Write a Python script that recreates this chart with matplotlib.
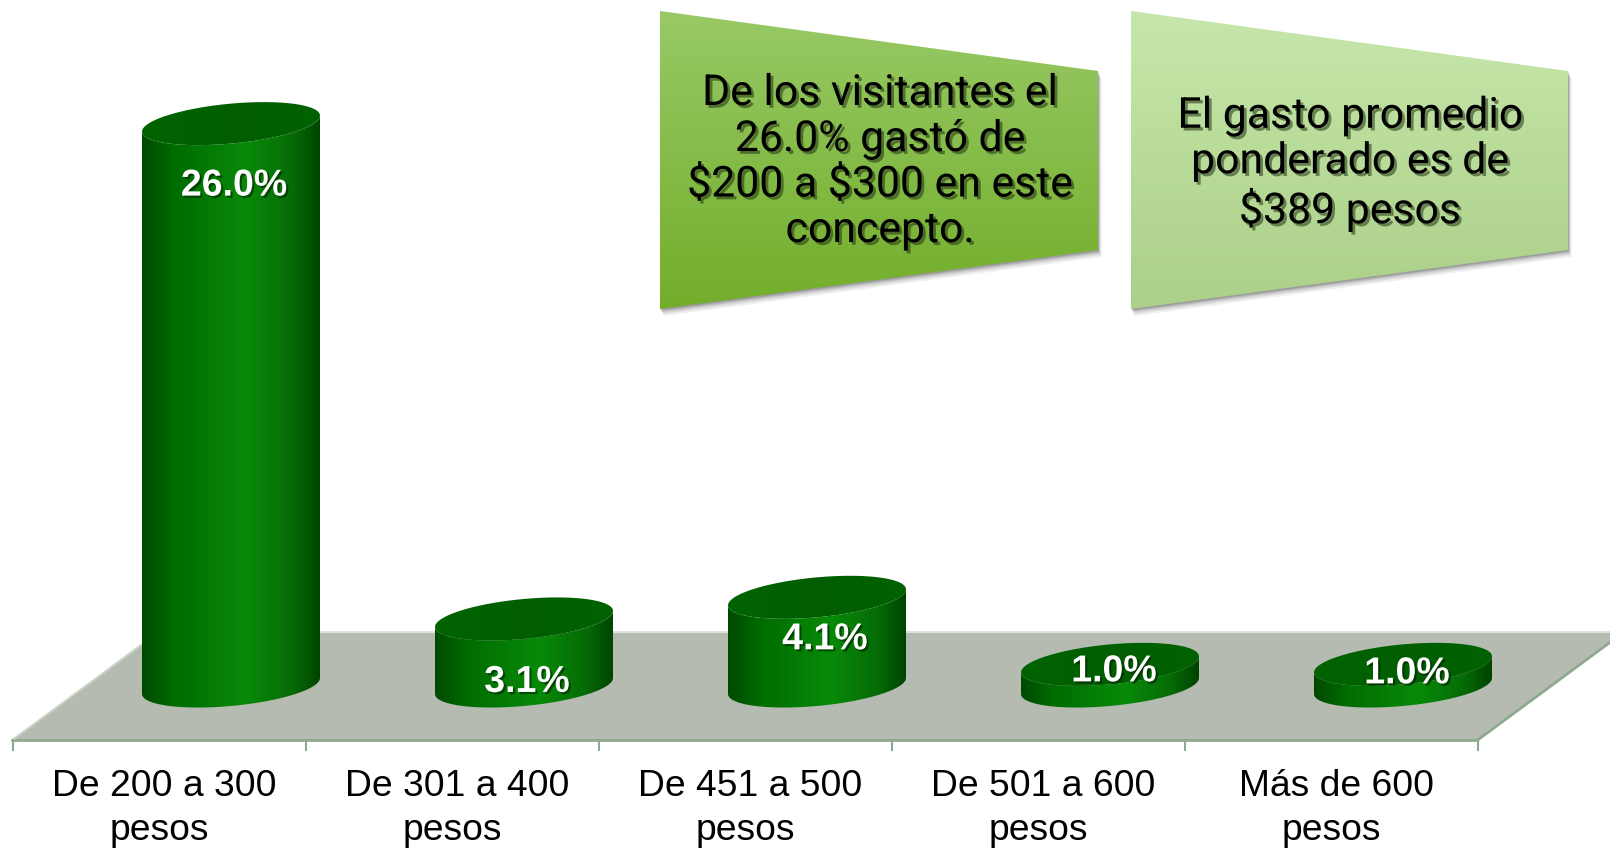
import matplotlib
matplotlib.use('Agg')
import matplotlib.pyplot as plt
import matplotlib.patheffects as pe
from matplotlib.colors import LinearSegmentedColormap
from matplotlib.patches import PathPatch, Polygon
from matplotlib.path import Path
import numpy as np

# Chart data
categories = ['De 200 a 300', 'De 301 a 400', 'De 451 a 500', 'De 501 a 600', 'Más de 600']
values = [26.0, 3.1, 4.1, 1.0, 1.0]
value_labels = ['26.0%', '3.1%', '4.1%', '1.0%', '1.0%']
unit_label = 'pesos'
note_left = 'De los visitantes el\n26.0% gastó de\n\\$200 a \\$300 en este\nconcepto.'
note_right = 'El gasto promedio\nponderado es de\n\\$389 pesos'

# Layout, in pixels of the 1610x848 picture
W, H = 1610, 848
FIRST_X, STEP_X = 231, 293
BASE_Y = 686
PX_PER_UNIT = 21.63
HALF_W, TILT, HALF_H = 89, 8, 20
LABEL_OFFSETS = [(3, 62), (3, 63), (8, 42), (4, 7), (4, 9)]

body_cmap = LinearSegmentedColormap.from_list('body', [
    (0, '#004a00'), (0.18, '#006c00'), (0.58, '#088a08'), (0.84, '#066c06'), (1, '#004400')])
top_cmap = LinearSegmentedColormap.from_list('top', ['#006400', '#005e00', '#006200'])


def tox(x):
    return (x - FIRST_X) / STEP_X


def toy(y):
    return (BASE_Y - y) / PX_PER_UNIT


# Draws a gradient inside a clip path
def gradient(ax, path, cmap, extent, vertical=False, z=2):
    if vertical:
        img = np.linspace(0, 1, 200).reshape(-1, 1)
    else:
        img = np.linspace(0, 1, 200).reshape(1, -1)
    im = ax.imshow(img, cmap=cmap, extent=extent, aspect='auto', zorder=z, interpolation='bilinear')
    im.set_clip_path(PathPatch(path, transform=ax.transData))


# Outline of the tilted ellipse that closes a cylinder
def ellipse(cx, cy, t):
    return np.column_stack([cx + HALF_W * np.cos(t) / STEP_X,
                            cy + (TILT * np.cos(t) + HALF_H * np.sin(t)) / PX_PER_UNIT])


def cylinder(ax, center, value):
    t = np.linspace(0, 2 * np.pi, 240)
    front = np.linspace(np.pi, 2 * np.pi, 120)
    # Lower half of the base, then lower half of the top going back
    base = ellipse(center, 0, front)
    top = ellipse(center, value, front)[::-1]
    body = Path(np.vstack([base, top, base[:1]]))
    extent = (center - HALF_W / STEP_X, center + HALF_W / STEP_X, -2, value + 2)
    gradient(ax, body, body_cmap, extent)
    gradient(ax, Path(ellipse(center, value, t)), top_cmap, extent, z=3)


fig = plt.figure(figsize=(W / 100, H / 100), dpi=100, facecolor='white')

# Pixel axes for floor, notes and labels
deco = fig.add_axes([0, 0, 1, 1])
deco.set_xlim(0, W)
deco.set_ylim(H, 0)
deco.axis('off')

floor = [(12.5, 740), (1477, 740), (1624, 632), (159, 632)]
deco.add_patch(Polygon(floor, closed=True, facecolor='#b5bbb1', edgecolor='none', zorder=1))
deco.plot([159, 1624], [631.5, 631.5], color='#dfe2dc', lw=1.5, zorder=1)
deco.plot([12.5, 1477, 1624], [740.5, 740.5, 632], color='#8fa98f', lw=2, zorder=1.5)
deco.plot([12.5, 159], [740, 632], color='#c6d2c4', lw=1.5, zorder=1.5)
for i in range(len(categories) + 1):
    tx = 12.5 + STEP_X * i
    deco.plot([tx, tx], [740, 750], color='#8fa98f', lw=1.5, zorder=1.5)

# Notes
notes = [
    ([(660, 11), (1098, 71), (1098, 250), (660, 309)], ['#98c966', '#72ae2a'], note_left, 880, 162),
    ([(1131, 11), (1568, 71), (1568, 250), (1131, 309)], ['#c6e7aa', '#abd089'], note_right, 1350, 164),
]
for pts, cols, txt, tx, ty in notes:
    pts = np.array(pts, dtype=float)
    for off, al in [(7, 0.08), (5, 0.12), (3, 0.18), (1.5, 0.22)]:
        deco.add_patch(Polygon(pts + [off * 0.5, off], closed=True, facecolor='#333333',
                               edgecolor='none', alpha=al, zorder=3))
    cmap = LinearSegmentedColormap.from_list('note', cols)
    gradient(deco, Path(np.vstack([pts, pts[:1]])), cmap, (pts[0, 0], pts[2, 0], 309, 11), vertical=True, z=4)
    deco.text(tx, ty, txt, ha='center', va='center', family='Roboto', fontsize=30.8, color='black',
              linespacing=1.14, zorder=5,
              path_effects=[pe.withSimplePatchShadow(offset=(2, -2), shadow_rgbFace='#223311', alpha=0.55)])

# Category labels
for i, name in enumerate(categories):
    deco.text(164 + STEP_X * i, 787, name, ha='center', va='center', family='Liberation Sans',
              fontsize=26.8, color='black')
    deco.text(159 + STEP_X * i, 831, unit_label, ha='center', va='center', family='Liberation Sans',
              fontsize=26.8, color='black')

# Value axes on top: x in category steps, y in percent
ax = fig.add_axes([0, 0, 1, 1])
ax.patch.set_alpha(0)
ax.axis('off')
for i, v in enumerate(values):
    cylinder(ax, i, v)
    dx, dy = LABEL_OFFSETS[i]
    ax.text(i + dx / STEP_X, v - dy / PX_PER_UNIT, value_labels[i], ha='center', va='center',
            family='Liberation Sans', fontweight='bold', fontsize=27, color='white', zorder=6,
            path_effects=[pe.withSimplePatchShadow(offset=(1.5, -1.5), shadow_rgbFace='#002200', alpha=0.6)])
ax.set_xlim(tox(0), tox(W))
ax.set_ylim(toy(H), toy(0))

deco.set_xlim(0, W)
deco.set_ylim(H, 0)

fig.savefig('out.png', dpi=100)
